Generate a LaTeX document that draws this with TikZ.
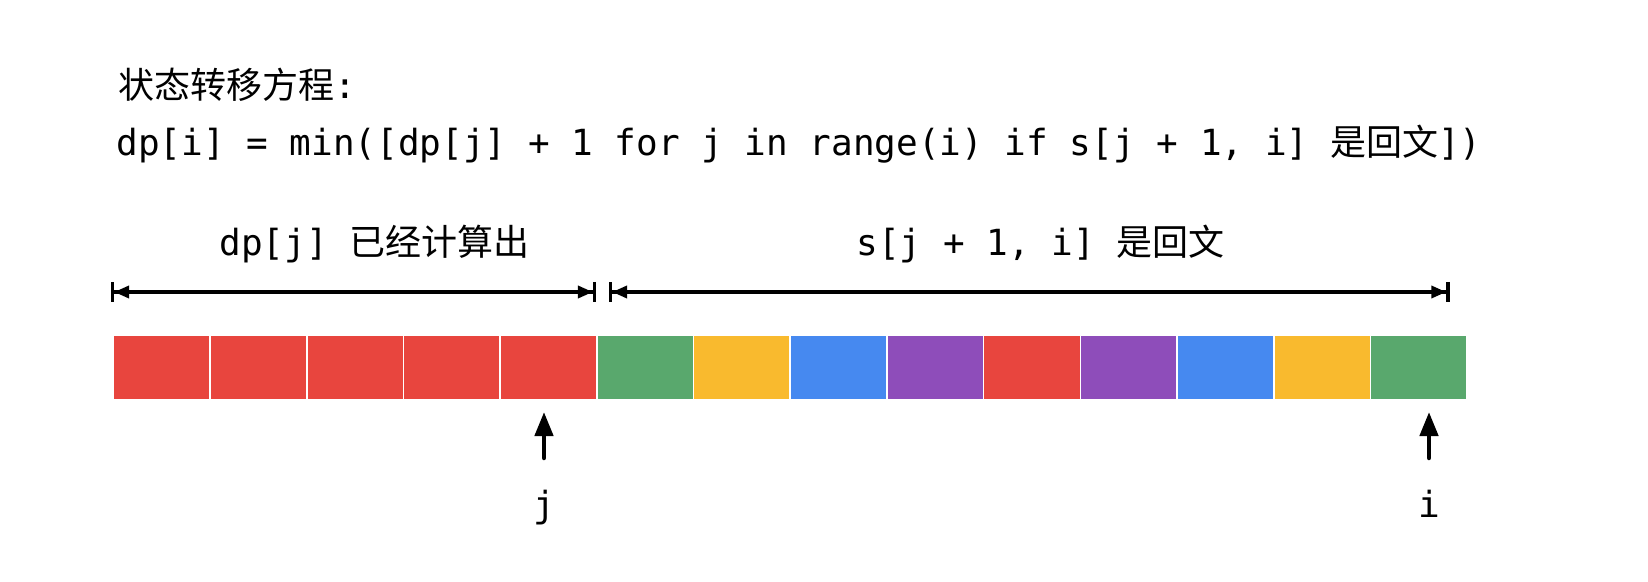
\documentclass[tikz,border=0pt]{standalone}
\usepackage{fontspec}
\setmonofont{DejaVu Sans Mono}
\newfontfamily\cjk{Noto Sans CJK SC}
\usetikzlibrary{arrows.meta}
\definecolor{cred}{HTML}{E8453E}
\definecolor{cgreen}{HTML}{59A86D}
\definecolor{cyellow}{HTML}{F9BA2E}
\definecolor{cblue}{HTML}{4689F0}
\definecolor{cpurple}{HTML}{8E4DBA}
\tikzset{
  txt/.style={anchor=base west, inner sep=0pt, font=\fontsize{18pt}{21pt}\selectfont},
  ptr/.style={anchor=base, inner sep=0pt, font=\fontsize{18pt}{21pt}\selectfont\ttfamily},
  cell/.style={draw=white, line width=0.8pt, minimum width=48.35pt, minimum height=32.75pt, inner sep=0pt, anchor=north west},
  dimline/.style={line width=1.75pt, {Bar[width=10pt,line width=1.75pt]Triangle[length=7.5pt,width=6pt]}-{Triangle[length=7.5pt,width=6pt]Bar[width=10pt,line width=1.75pt]}},
  uparrow/.style={line width=2.25pt, line cap=round, -{Triangle[length=12pt,width=9pt]}}
}
\begin{document}
\begin{tikzpicture}[x=0.5pt,y=-0.5pt]
\useasboundingbox (0,0) rectangle (1648,582);
% texts
\node[txt] (title) at (118,99) {\cjk 状态转移方程{\ttfamily :}};
\node[txt] (eq) at (116,156) {\ttfamily dp[i] = min([dp[j] + 1 for j in range(i) if s[j + 1, i] {\cjk 是回文}])};
\node[txt] (lab1) at (219,256) {\ttfamily dp[j] {\cjk 已经计算出}};
\node[txt] (lab2) at (856,256) {\ttfamily s[j + 1, i] {\cjk 是回文}};
% cells
\foreach \c [count=\k from 0] in {cred,cred,cred,cred,cred,cgreen,cyellow,cblue,cpurple,cred,cpurple,cblue,cyellow,cgreen}{
  \node[cell, fill=\c] (c\k) at ({112.5+96.7*\k},334) {};
}
% dimension lines
\coordinate (d1a) at (110.6,292);
\coordinate (d1b) at (596.4,292);
\coordinate (d2a) at (608.6,292);
\coordinate (d2b) at (1449.8,292);
\draw[dimline] (d1a) -- (d1b);
\draw[dimline] (d2a) -- (d2b);
% pointers
\node[ptr] (pj) at (544,517) {j};
\node[ptr] (pi) at (1429,517) {i};
\coordinate (pjtail) at (544,458);
\coordinate (pjtip) at (544,412);
\coordinate (pitail) at (1429,458);
\coordinate (pitip) at (1429,412);
\draw[uparrow] (pjtail) -- (pjtip);
\draw[uparrow] (pitail) -- (pitip);
\end{tikzpicture}
\end{document}
